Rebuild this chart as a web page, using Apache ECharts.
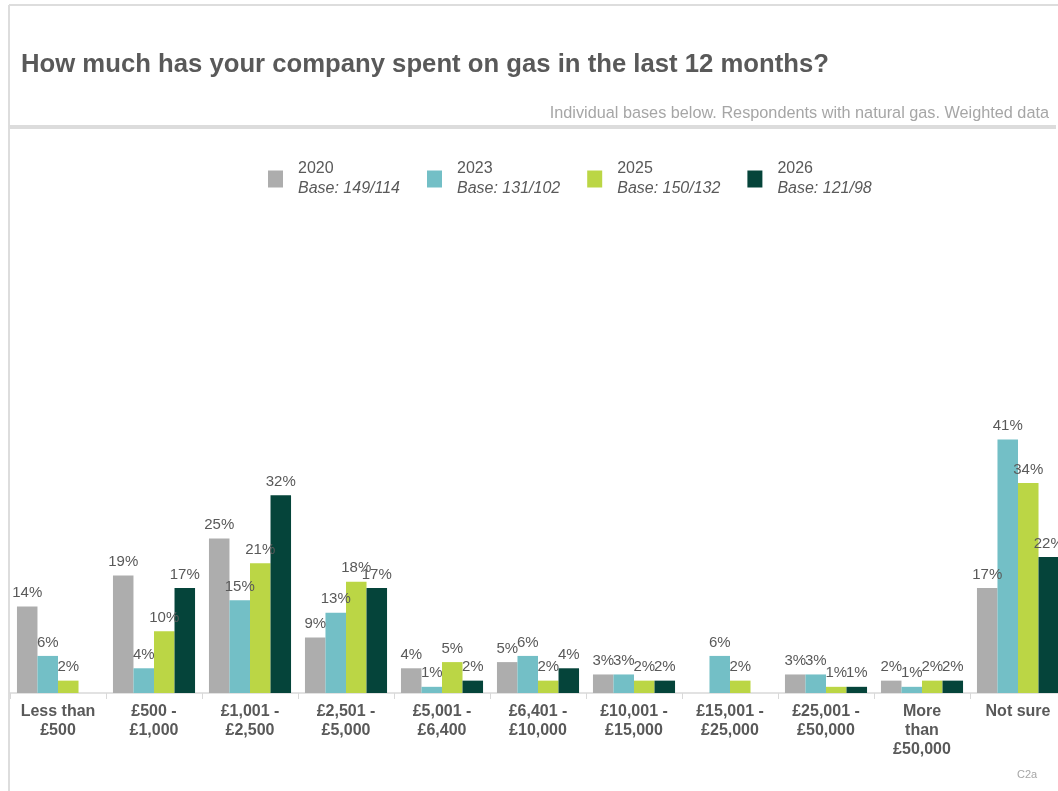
<!DOCTYPE html>
<html>
<head>
<meta charset="utf-8">
<script src="https://cdn.jsdelivr.net/npm/echarts@6/dist/echarts.min.js"></script>
<style>
  html, body { margin: 0; padding: 0; background: #fff; }
  #chart { width: 1058px; height: 791px; }
</style>
</head>
<body>
<div id="chart"></div>
<script>
// Spend bands (axis labels, with line breaks as printed)
const categories = [
  'Less than\n£500', '£500 -\n£1,000', '£1,001 -\n£2,500', '£2,501 -\n£5,000',
  '£5,001 -\n£6,400', '£6,401 -\n£10,000', '£10,001 -\n£15,000', '£15,001 -\n£25,000',
  '£25,001 -\n£50,000', 'More\nthan\n£50,000', 'Not sure'
];

// Survey waves and their bases
const years = ['2020', '2023', '2025', '2026'];
const bases = ['Base: 149/114', 'Base: 131/102', 'Base: 150/132', 'Base: 121/98'];

// Share of respondents (%) per band; null = no bar shown
const values2020 = [14, 19, 25, 9, 4, 5, 3, null, 3, 2, 17];
const values2023 = [6, 4, 15, 13, 1, 6, 3, 6, 3, 1, 41];
const values2025 = [2, 10, 21, 18, 5, 2, 2, 2, 1, 2, 34];
const values2026 = [null, 17, 32, 17, 2, 4, 2, null, 1, 2, 22];

const seriesValues = [values2020, values2023, values2025, values2026];
const colors = ['#ADADAD', '#73BFC6', '#BBD645', '#05443A'];

const TEXT = '#595959';
const FONT = 'Liberation Sans, Arial, sans-serif';

const chart = echarts.init(document.getElementById('chart'));

chart.setOption({
  animation: false,
  textStyle: { fontFamily: FONT },
  title: [
    {
      text: 'How much has your company spent on gas in the last 12 months?',
      left: 16, top: 47,
      textStyle: { fontSize: 25.7, fontWeight: 'bold', color: TEXT, fontFamily: FONT }
    },
    {
      text: 'Individual bases below. Respondents with natural gas. Weighted data',
      right: 4, top: 101,
      textStyle: { fontSize: 16.25, fontWeight: 'normal', color: '#A6A6A6', fontFamily: FONT }
    },
    {
      text: 'C2a',
      left: 1012, top: 764,
      textStyle: { fontSize: 11, fontWeight: 'normal', color: '#A6A6A6', fontFamily: FONT }
    }
  ],
  graphic: [
    // panel frame
    { type: 'line', shape: { x1: 9, y1: 5, x2: 1058, y2: 5 }, style: { stroke: '#DDDDDD', lineWidth: 2 } },
    { type: 'line', shape: { x1: 9, y1: 5, x2: 9, y2: 791 }, style: { stroke: '#DDDDDD', lineWidth: 2 } },
    // header separator
    { type: 'line', shape: { x1: 9, y1: 127, x2: 1056, y2: 127 }, style: { stroke: '#DCDCDC', lineWidth: 4 } }
  ],
  legend: {
    left: 263, top: 156,
    itemWidth: 15, itemHeight: 17, itemGap: 27,
    icon: 'rect',
    data: years,
    formatter: function (name) {
      const i = years.indexOf(name);
      return '{y|' + name + '}\n{b|' + bases[i] + '}';
    },
    textStyle: {
      color: TEXT,
      padding: [0, 0, 0, 10],
      rich: {
        y: { fontSize: 16, lineHeight: 20, color: TEXT, fontFamily: FONT },
        b: { fontSize: 16, lineHeight: 20, fontStyle: 'italic', color: TEXT, fontFamily: FONT }
      }
    }
  },
  // the plot runs slightly past the right edge of the panel
  grid: { left: 10, width: 1056, top: 384, bottom: 98, containLabel: false, outerBoundsMode: 'none' },
  xAxis: {
    type: 'category',
    data: categories,
    axisLine: { lineStyle: { color: '#D9D9D9', width: 1.5 } },
    axisTick: { show: true, alignWithLabel: false, length: 6, lineStyle: { color: '#D9D9D9' } },
    axisLabel: {
      interval: 0, margin: 9,
      color: TEXT, fontSize: 16, fontWeight: 'bold', lineHeight: 19, fontFamily: FONT
    }
  },
  yAxis: {
    type: 'value', min: 0, max: 50,
    show: false,
    splitLine: { show: false }
  },
  series: years.map((y, i) => ({
    name: y,
    type: 'bar',
    data: seriesValues[i],
    barGap: '0%',
    barCategoryGap: '14.5%',
    itemStyle: { color: colors[i] },
    label: {
      show: true, position: 'top', distance: 6,
      formatter: p => (p.value == null ? '' : p.value + '%'),
      color: TEXT, fontSize: 15, fontFamily: FONT
    }
  }))
});
</script>
</body>
</html>
